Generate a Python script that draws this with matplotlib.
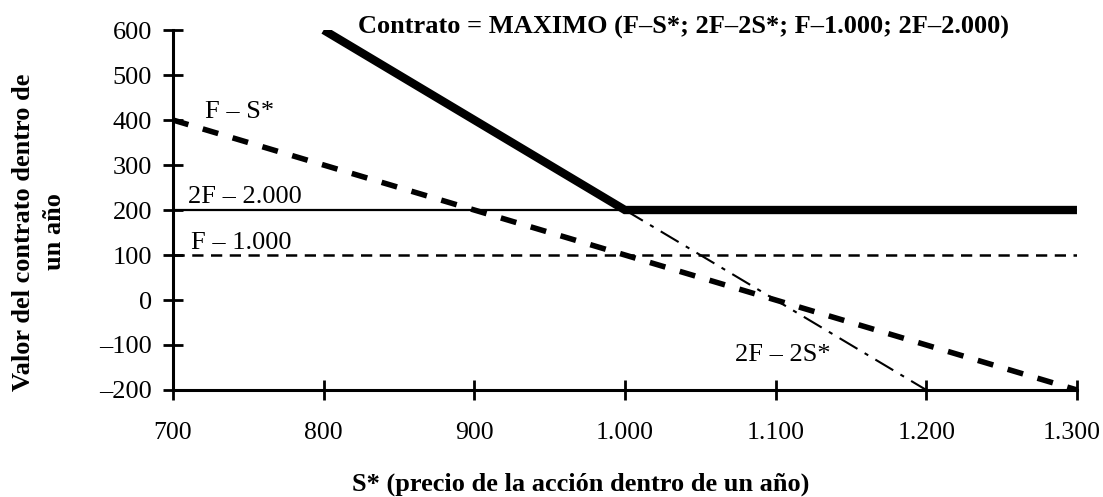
import numpy as np
import matplotlib
matplotlib.use('Agg')
import matplotlib.pyplot as plt
import matplotlib.transforms as mtransforms

plt.rcParams['font.family'] = ['Liberation Serif', 'DejaVu Serif']

# Data (S* price vs contract value)
x_ticks = [700, 800, 900, 1000, 1100, 1200, 1300]
x_ticklabels = ['700', '800', '900', '1.000', '1.100', '1.200', '1.300']
y_ticks = [-200, -100, 0, 100, 200, 300, 400, 500, 600]
y_ticklabels = ['\u2013200', '\u2013100', '0', '100', '200', '300', '400', '500', '600']

s_f_minus_s = [700, 1300]
v_f_minus_s = [400, -200]

s_2f_minus_2s = [1000, 1200]
v_2f_minus_2s = [200, -200]

s_f_minus_1000 = [700, 1300]
v_f_minus_1000 = [100, 100]

s_2f_minus_2000 = [700, 1300]
v_2f_minus_2000 = [200, 200]

s_max = [800, 1000, 1300]
v_max = [600, 200, 200]

fs = 19

fig = plt.figure(figsize=(11.03, 4.97), dpi=100)
ax = fig.add_axes([0.1568, 0.2153, 0.8196, 0.7243])

# Horizontal reference lines
ax.plot(s_2f_minus_2000, v_2f_minus_2000, color='black', lw=1.6, zorder=2)
ax.plot(s_f_minus_1000, v_f_minus_1000, color='black', lw=1.8, dashes=(4.5, 3.0), zorder=2)

# F - S* (thick dashed)
ax.plot(s_f_minus_s, v_f_minus_s, color='black', lw=4, dashes=(2.9, 2.7),
        dash_capstyle='butt', zorder=3)

# 2F - 2S* (thin dash-dot)
ax.plot(s_2f_minus_2s, v_2f_minus_2s, color='black', lw=1.5,
        dashes=(10, 4, 2, 4), zorder=3)

# Contract value = max of all
ax.plot(s_max, v_max, color='black', lw=6, solid_capstyle='butt',
        solid_joinstyle='miter', zorder=4)

ax.set_xlim(700, 1300)
ax.set_ylim(-200, 600)
ax.set_xticks(x_ticks)
ax.set_xticklabels(x_ticklabels)
ax.set_yticks(y_ticks)
ax.set_yticklabels(y_ticklabels)

for side in ['top', 'right']:
    ax.spines[side].set_visible(False)
for side in ['left', 'bottom']:
    ax.spines[side].set_linewidth(2.2)

ax.tick_params(axis='both', direction='inout', length=14, width=2, labelsize=fs)
ax.tick_params(axis='x', labelsize=18.5, pad=16)
ax.tick_params(axis='y', pad=8)

# keep the last x tick label inside the figure
last = ax.get_xticklabels()[-1]
last.set_transform(last.get_transform() +
                   mtransforms.ScaledTranslation(-4 / 72, 0, fig.dpi_scale_trans))

# Line annotations
ax.text(721, 418, 'F \u2013 S*', fontsize=fs, va='center', ha='left')
ax.text(710, 229, '2F \u2013 2.000', fontsize=fs, va='center', ha='left')
ax.text(712, 127, 'F \u2013 1.000', fontsize=fs, va='center', ha='left')
ax.text(1073, -122, '2F \u2013 2S*', fontsize=fs, va='center', ha='left')

ax.text(1039, 606, 'Contrato = MAXIMO (F\u2013S*; 2F\u20132S*; F\u20131.000; 2F\u20132.000)',
        fontsize=fs, fontweight='bold', ha='center', va='center', clip_on=False)

fig.text(39 / 1103, 1 - 232 / 497, 'Valor del contrato dentro de\nun año',
         rotation=90, ha='center', va='center', multialignment='center',
         fontsize=fs, fontweight='bold', linespacing=1.4)
fig.text(581 / 1103, 1 - 484 / 497, 'S* (precio de la acción dentro de un año)',
         ha='center', va='center', fontsize=fs, fontweight='bold')

fig.savefig('out.png', dpi=100)
